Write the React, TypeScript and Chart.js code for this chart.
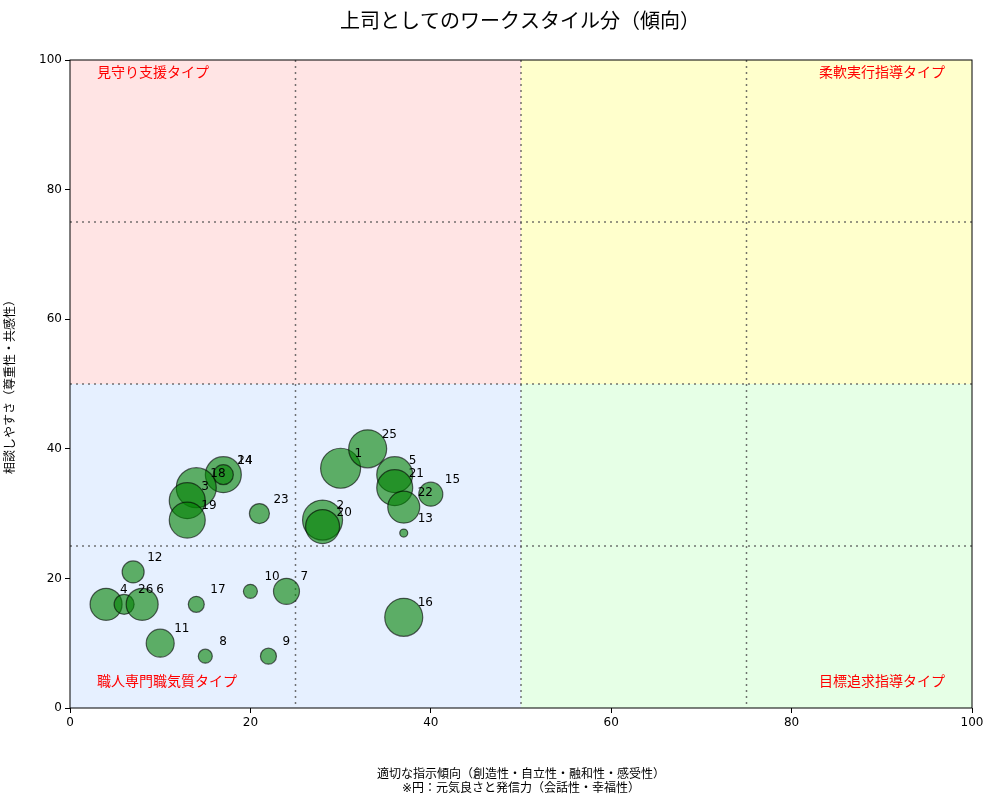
import React, { useEffect, useRef } from "react";
import Chart from "chart.js/auto";

const ids = ["1", "25", "5", "21", "22", "15", "13", "2", "20", "23", "14", "24", "18", "3", "19", "12", "4", "26", "6", "17", "10", "7", "11", "8", "9", "16"];
const xs = [30, 33, 36, 36, 37, 40, 37, 28, 28, 21, 17, 17, 14, 13, 13, 7, 4, 6, 8, 14, 20, 24, 10, 15, 22, 37];
const ys = [37, 40, 36, 34, 31, 33, 27, 29, 28, 30, 36, 36, 34, 32, 29, 21, 16, 16, 16, 16, 18, 18, 10, 8, 8, 14];
const sizes = [20, 19, 18, 18, 16, 12, 4, 20, 17, 10, 18, 10, 20, 18, 18, 11, 16, 10, 16, 8, 7, 13, 14, 7, 8, 19];

const quadrants = [
  { x0: 0, x1: 50, y0: 50, y1: 100, color: "#ffe4e4", label: "見守り支援タイプ", align: "left", top: true },
  { x0: 50, x1: 100, y0: 50, y1: 100, color: "#ffffcc", label: "柔軟実行指導タイプ", align: "right", top: true },
  { x0: 0, x1: 50, y0: 0, y1: 50, color: "#e6f0ff", label: "職人専門職気質タイプ", align: "left", top: false },
  { x0: 50, x1: 100, y0: 0, y1: 50, color: "#e6ffe6", label: "目標追求指導タイプ", align: "right", top: false },
];
const gridLines = [25, 50, 75];
const FONT = "'DejaVu Sans', 'Noto Sans CJK JP', sans-serif";

const overlay = {
  id: "overlay",
  beforeDatasetsDraw(chart: any) {
    const { ctx, chartArea: a, scales } = chart;
    const sx = scales.x, sy = scales.y;
    ctx.save();
    quadrants.forEach((q) => {
      ctx.fillStyle = q.color;
      const l = sx.getPixelForValue(q.x0), r = sx.getPixelForValue(q.x1);
      const t = sy.getPixelForValue(q.y1), b = sy.getPixelForValue(q.y0);
      ctx.fillRect(l, t, r - l, b - t);
    });
    ctx.strokeStyle = "rgba(80,80,80,0.8)";
    ctx.lineWidth = 1.5;
    ctx.setLineDash([2, 4]);
    gridLines.forEach((v) => {
      const px = sx.getPixelForValue(v), py = sy.getPixelForValue(v);
      ctx.beginPath(); ctx.moveTo(px, a.top); ctx.lineTo(px, a.bottom); ctx.stroke();
      ctx.beginPath(); ctx.moveTo(a.left, py); ctx.lineTo(a.right, py); ctx.stroke();
    });
    ctx.setLineDash([]);
    ctx.fillStyle = "red";
    ctx.font = `14px ${FONT}`;
    ctx.textBaseline = "middle";
    quadrants.forEach((q) => {
      ctx.textAlign = q.align as CanvasTextAlign;
      const x = q.align === "left" ? sx.getPixelForValue(3) : sx.getPixelForValue(97);
      const y = q.top ? sy.getPixelForValue(98) : sy.getPixelForValue(4);
      ctx.fillText(q.label, x, y);
    });
    ctx.restore();
  },
  afterDatasetsDraw(chart: any) {
    const { ctx, chartArea: a, scales } = chart;
    ctx.save();
    ctx.fillStyle = "#000";
    ctx.font = `12px ${FONT}`;
    ctx.textAlign = "left";
    ctx.textBaseline = "middle";
    ids.forEach((id, i) => {
      ctx.fillText(id, scales.x.getPixelForValue(xs[i]) + 14, scales.y.getPixelForValue(ys[i]) - 14);
    });
    ctx.strokeStyle = "#000";
    ctx.lineWidth = 1;
    ctx.strokeRect(a.left, a.top, a.right - a.left, a.bottom - a.top);
    ctx.font = `20px ${FONT}`;
    ctx.textAlign = "center";
    ctx.fillText("上司としてのワークスタイル分（傾向）", 520, 23);
    ctx.restore();
  },
};

const App = () => {
  const canvasRef = useRef<HTMLCanvasElement | null>(null);
  const chartRef = useRef<Chart | null>(null);

  useEffect(() => {
    const ctx = canvasRef.current?.getContext("2d");
    if (!ctx) return;
    chartRef.current = new Chart(ctx, {
      type: "bubble",
      data: {
        datasets: [{
          data: ids.map((_, i) => ({ x: xs[i], y: ys[i], r: sizes[i] })),
          backgroundColor: "rgba(0,128,0,0.6)",
          borderColor: "rgba(0,0,0,0.6)",
          borderWidth: 1.2,
        }],
      },
      options: {
        responsive: false,
        animation: false,
        layout: { padding: { top: 60, right: 28, left: 0, bottom: 0 } },
        plugins: { legend: { display: false }, tooltip: { enabled: false }, title: { display: false } },
        scales: {
          x: {
            min: 0, max: 100,
            ticks: { stepSize: 20, color: "#000", font: { size: 12, family: FONT } },
            grid: { display: true, drawOnChartArea: false, drawTicks: true, tickLength: 5, color: "#000" },
            border: { display: false },
            title: { display: true, text: ["適切な指示傾向（創造性・自立性・融和性・感受性）", "※円：元気良さと発信力（会話性・幸福性）"], color: "#000", font: { size: 12, family: FONT, lineHeight: 1.15 }, padding: { top: 24 } },
            afterFit: (s: any) => { s.height = 92; },
          },
          y: {
            min: 0, max: 100,
            ticks: { stepSize: 20, color: "#000", font: { size: 12, family: FONT } },
            grid: { display: true, drawOnChartArea: false, tickLength: 5, color: "#000" },
            border: { display: false },
            title: { display: true, text: "相談しやすさ（尊重性・共感性）", color: "#000", font: { size: 12, family: FONT } },
            afterFit: (s: any) => { s.width = 70; },
          },
        },
      },
      plugins: [overlay],
    });
    return () => { chartRef.current?.destroy(); };
  }, []);

  return (
    <div style={{ position: "absolute", left: 0, top: 0, width: 1000, height: 800, background: "#fff" }}>
      <canvas ref={canvasRef} width={1000} height={800} />
    </div>
  );
};

export default App;
